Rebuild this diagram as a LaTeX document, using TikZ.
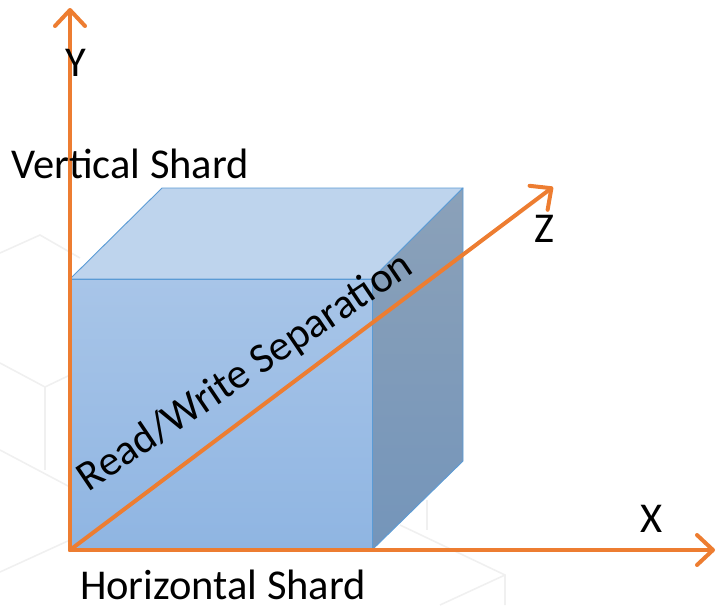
\documentclass[tikz,border=0pt]{standalone}
\usepackage{fontspec}
\setmainfont{Carlito}
\usetikzlibrary{arrows.meta}
\definecolor{axisorange}{RGB}{237,125,49}
\definecolor{cubeedge}{RGB}{91,155,213}
\definecolor{fronttop}{RGB}{168,197,232}
\definecolor{frontbot}{RGB}{143,181,226}
\definecolor{topface}{RGB}{190,212,237}
\definecolor{sidetop}{RGB}{139,161,185}
\definecolor{sidebot}{RGB}{116,149,186}
\definecolor{bgtrace}{gray}{0.94}

\begin{document}
\begin{tikzpicture}[
    x=1pt, y=-1pt,
    axis/.style={draw=axisorange, line width=4pt, line cap=round,
        -{Straight Barb[length=16pt, width=30pt, round]}},
    face/.style={draw=cubeedge, line width=0.9pt, line join=round},
    bgline/.style={draw=bgtrace, line width=1.6pt},
    lbl/.style={font=\fontsize{42.5}{50}\selectfont, inner sep=0pt, anchor=base}
]
    \useasboundingbox (0,0) rectangle (717,605);

    \draw[bgline] (0,253) -- (40,235) -- (80,258);
    \draw[bgline] (0,363) -- (45,387) -- (70,375);
    \draw[bgline] (45,387) -- (45,470);
    \draw[bgline] (0,450) -- (70,487);
    \draw[bgline] (0,572) -- (70,540);
    \draw[bgline] (427,500) -- (427,530);
    \draw[bgline] (400,525) -- (505,575) -- (505,605);
    \draw[bgline] (505,575) -- (440,605);

    \coordinate (o) at (70,550);
    \coordinate (fbr) at (372,550);
    \coordinate (ftr) at (372,279);
    \coordinate (ftl) at (70,279);
    \coordinate (btr) at (463,188);
    \coordinate (btl) at (162,188);
    \coordinate (bbr) at (463,461);
    \coordinate (xtip) at (715,550);
    \coordinate (ytip) at (70,8);
    \coordinate (ztip) at (553,187);

    \path[face, fill=topface] (ftl) -- (ftr) -- (btr) -- (btl) -- cycle;
    \path[face, top color=sidetop, bottom color=sidebot] (fbr) -- (bbr) -- (btr) -- (ftr) -- cycle;
    \path[face, top color=fronttop, bottom color=frontbot] (o) -- (fbr) -- (ftr) -- (ftl) -- cycle;

    \draw[axis] (o) -- (ytip);
    \draw[axis] (o) -- (xtip);
    \draw[axis] (o) -- (ztip);

    \node[lbl] (ylbl) at (76,76) {Y};
    \node[lbl] (xlbl) at (652,532) {X};
    \node[lbl] (zlbl) at (544,242) {Z};
    \node[lbl] (vshard) at (130,178) {Vertical Shard};
    \node[lbl] (hshard) at (223,599) {Horizontal Shard};
    \node[lbl, rotate=34] (rwsep) at (252,382) {Read/Write Separation};
\end{tikzpicture}
\end{document}
